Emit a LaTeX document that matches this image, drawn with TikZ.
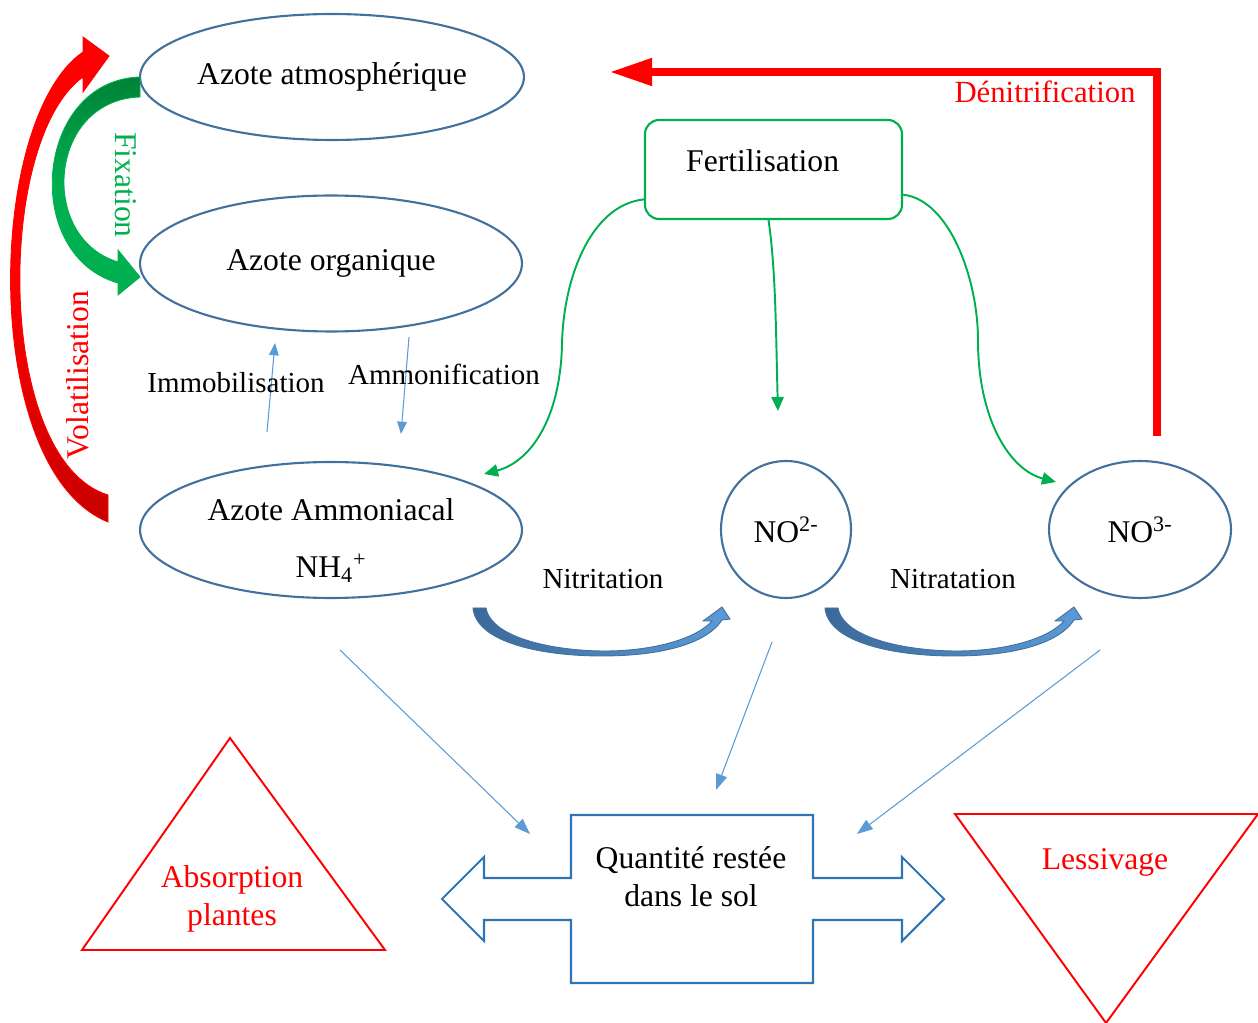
\documentclass[tikz,border=0pt]{standalone}
\usepackage{fontspec}
\setmainfont{Liberation Serif}
\usetikzlibrary{calc,positioning,arrows.meta,shapes.geometric}
\definecolor{bleuell}{RGB}{65,113,156}
\definecolor{bleufl}{RGB}{91,155,213}
\definecolor{bleusol}{RGB}{46,117,182}
\definecolor{bleufonce}{RGB}{60,105,155}
\definecolor{vert}{RGB}{0,176,80}
\definecolor{vertfonce}{RGB}{0,130,55}
\definecolor{rougefonce}{RGB}{200,0,0}
\newcommand{\baisse}[1]{\raisebox{-5.8pt}[\height][\depth]{#1}}

\begin{document}
\begin{tikzpicture}
[x=0.02cm, y=-0.02cm,
every node/.style={font=\fontsize{18}{21.6}\selectfont},
etat/.style={ellipse, draw=bleuell, line width=1.2pt, inner sep=0pt,
minimum width=7.64cm, minimum height=2.72cm},
ion/.style={etat, minimum width=2.6cm, minimum height=2.74cm},
apport/.style={rectangle, rounded corners=0.28cm, draw=vert, line width=1.2pt,
minimum width=5.14cm, minimum height=1.98cm},
proc/.style={font=\fontsize{16.5}{20}\selectfont},
flux/.style={-{Triangle[length=7pt,width=5.5pt]}, draw=bleufl, line width=0.6pt},
ferti/.style={-{Triangle[length=8pt,width=7pt]}, draw=vert, line width=1.1pt},
croissant/.style={left color=bleufonce, right color=bleufl, draw=bleuell, line width=0.5pt}]

\useasboundingbox (0,0) rectangle (1258,1023);

% Draw pools
\node [etat, minimum width=7.68cm, minimum height=2.52cm] (atmo) at (332,77) {Azote atmosphérique};
\node [etat] (orga) at (331,263.5) {Azote organique};
\node [etat, align=center] (ammo) at (331,530) {\baisse{Azote Ammoniacal}\\[11pt]\baisse{NH\textsubscript{4}\textsuperscript{+}}};
\node [ion] (no2) at (786,529.5) {NO\textsuperscript{2-}};
\node [ion, minimum width=3.64cm] (no3) at (1140,529.5) {NO\textsuperscript{3-}};
\node [apport, text height=12.4pt, text depth=10pt] (fert) at (773.5,169.5) {Fertilisation\kern12.4pt};

% Fixation and volatilisation
\shadedraw [top color=red, bottom color=rougefonce, middle color=red, draw=red, line width=0.5pt]
(108,522) .. controls (-20,470) and (-15,120) .. (83,52) -- (83,37) -- (109,56) -- (83,92) -- (83,77)
.. controls (-5,140) and (-5,460) .. (108,495) -- cycle;
\shadedraw [top color=vertfonce, bottom color=vert, middle color=vert, draw=vert, line width=0.5pt]
(140,77) .. controls (35,80) and (20,255) .. (118,283) -- (118,295) -- (140,277) -- (118,250) -- (118,262)
.. controls (38,238) and (48,100) .. (140,97) -- cycle;
\node [text=red, rotate=90] (volat) at (78,375) {Volatilisation};
\node [text=vert, rotate=-90] (fixa) at (126,185) {Fixation};

% Immobilisation / ammonification
\coordinate (im1) at (267,432);
\coordinate (im2) at (275,343);
\coordinate (am1) at (409,337);
\coordinate (am2) at (401,434);
\draw [flux] (im1) -- (im2);
\draw [flux] (am1) -- (am2);
\node [proc] (limmo) at (236,383) {Immobilisation};
\node [proc] (lammo) at (444,374) {Ammonification};

% Fertilisation
\coordinate (f1) at (484,474);
\coordinate (f2) at (778,411);
\coordinate (f3) at (1056,482);
\draw [ferti] (fert.193) .. controls (590,205) and (563,280) .. (562,345)
.. controls (560,420) and (530,462) .. (f1);
\draw [ferti] ($(fert.south)+(-5,0)$) .. controls (776,270) and (776,340) .. (f2);
\draw [ferti] (fert.-11) .. controls (950,200) and (978,280) .. (978,340)
.. controls (978,420) and (1010,470) .. (f3);

% Denitrification
\coordinate (d1) at (1157,436);
\coordinate (d2) at (610,72);
\draw [red, line width=4pt, -{Triangle[length=24pt,width=15pt]}] (d1) |- (d2);
\node [text=red, font=\fontsize{17.5}{21}\selectfont] (ldeni) at (1045,92) {Dénitrification};

% Nitritation, nitratation
\foreach \dx in {0,352}
\shadedraw [croissant, shift={(\dx,0)}] (473,608) -- (486,608) .. controls (492,640) and (560,651) .. (605,651)
.. controls (650,651) and (695,640) .. (712,621) -- (703,621) -- (722,607) -- (730,619) -- (722,620)
.. controls (705,646) and (655,656) .. (602,656) .. controls (540,656) and (476,642) .. (473,608) -- cycle;
\node [proc] (lnitri) at (603,579) {Nitritation};
\node [proc] (lnitra) at (953,579) {Nitratation};

% Soil
\draw [bleusol, line width=1.2pt] (571,815) -- (813,815) -- (813,878) -- (902,878) -- (902,857)
-- (944,899) -- (902,941) -- (902,920) -- (813,920) -- (813,983) -- (571,983) -- (571,920)
-- (484,920) -- (484,941) -- (442,899) -- (484,857) -- (484,878) -- (571,878) -- cycle;
\node [align=center] (sol) at (691,877) {Quantité restée\\dans le sol};
\coordinate (s1) at (340,650);
\coordinate (s1e) at (530,834);
\coordinate (s2) at (772,642);
\coordinate (s2e) at (716,790);
\coordinate (s3) at (1100,650);
\coordinate (s3e) at (857,834);
\draw [flux, -{Triangle[length=9pt,width=6.5pt]}] (s1) -- (s1e);
\draw [flux, -{Triangle[length=9pt,width=6.5pt]}] (s2) -- (s2e);
\draw [flux, -{Triangle[length=9pt,width=6.5pt]}] (s3) -- (s3e);

% Losses
\draw [red, line width=1.1pt] (230,738) -- (385,950) -- (82,950) -- cycle;
\node [text=red, align=center] (abso) at (232,899) {Absorption\\plantes};
\draw [red, line width=1.1pt] (955,814) -- (1258,814) -- (1106,1023) -- cycle;
\node [text=red] (lessi) at (1105,862) {Lessivage};

\end{tikzpicture}
\end{document}
